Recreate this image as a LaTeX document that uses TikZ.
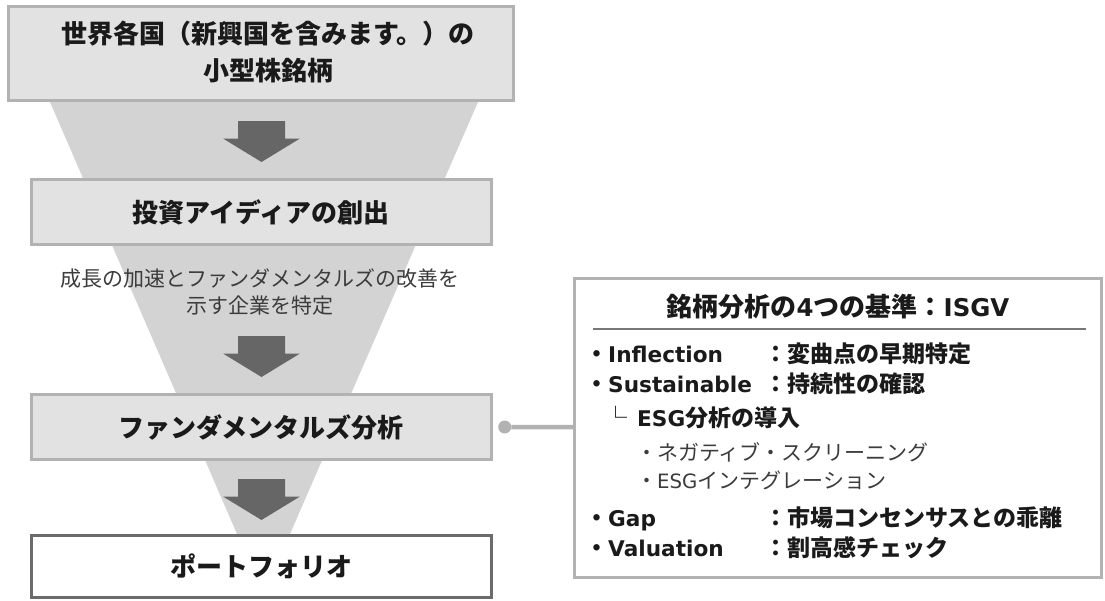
\documentclass[tikz,border=0pt]{standalone}
\usepackage{fontspec}
\setmainfont{Noto Sans CJK JP}
\newfontfamily\lat{DejaVu Sans}[Scale=0.94]
\usetikzlibrary{positioning}

\definecolor{funnelgray}{HTML}{D3D3D3}
\definecolor{boxfill}{HTML}{E2E2E2}
\definecolor{boxline}{HTML}{B2B2B2}
\definecolor{arrowgray}{HTML}{666666}
\definecolor{darkline}{HTML}{6B6B6B}
\definecolor{ruleline}{HTML}{777777}
\definecolor{inktext}{HTML}{1A1A1A}
\definecolor{softtext}{HTML}{3C3C3C}

\begin{document}
\begin{tikzpicture}[x=1pt,y=-1pt,
  stage/.style={rectangle,draw=boxline,fill=boxfill,line width=3pt,minimum width=460pt,
    minimum height=65pt,inner sep=0pt,text=inktext,font=\fontsize{26}{37}\selectfont\bfseries},
  stagetext/.style={align=center,inner sep=0pt,text=inktext,font=\fontsize{26}{37}\selectfont\bfseries},
  note/.style={align=center,inner sep=0pt,text=softtext,font=\fontsize{21}{27}\selectfont},
  dotnode/.style={circle,fill=boxline,minimum size=13pt,inner sep=0pt},
  link/.style={draw=boxline,line width=4.5pt},
  panel/.style={rectangle,draw=boxline,fill=white,line width=3pt,minimum width=527pt,minimum height=299pt,inner sep=0pt},
  paneltitle/.style={inner sep=0pt,text=inktext,font=\fontsize{26}{30}\selectfont\bfseries},
  rule/.style={draw=ruleline,line width=2pt},
  item/.style={anchor=base west,inner sep=0pt,text=inktext,font=\fontsize{23}{27}\selectfont\bfseries},
  subitem/.style={anchor=base west,inner sep=0pt,text=softtext,font=\fontsize{21}{25}\selectfont},
  downarrow/.pic={\fill[arrowgray] (-23.5,0) -- (23.5,0) -- (23.5,17.5) -- (38.5,17.5) -- (0,41)
    -- (-38.5,17.5) -- (-23.5,17.5) -- cycle;}]

  \useasboundingbox (0,0) rectangle (1105,600);

  % funnel behind the stages
  \fill[funnelgray] (50,102) -- (478,102) -- (290,534) -- (237,534) -- cycle;

  \node[stage,minimum width=505pt,minimum height=94pt] (src) at (261,53.5) {};
  \node[stagetext] (srctext) at (268,51.5) {世界各国（新興国を含みます。）の\\小型株銘柄};
  \node[stage] (idea) [below=76pt of src] {投資アイディアの創出};
  \node[stage] (fund) [below=147pt of idea] {ファンダメンタルズ分析};
  \node[stage,draw=darkline,fill=white,minimum height=62pt] (port) [below=73pt of fund] {ポートフォリオ};

  \node[note] (ideanote) at (260,291.5) {成長の加速とファンダメンタルズの改善を\\示す企業を特定};

  \pic at (261.5,121) {downarrow};
  \pic at (261.5,336) {downarrow};
  \pic at (261.5,479) {downarrow};

  % criteria panel
  \node[dotnode,right=5.5pt of fund] (tap) {};
  \node[panel] (isgv) at (838,428) {};
  \draw[link] (tap) -- (isgv);

  \node[paneltitle] (isgvtitle) at (838,307) {銘柄分析の{\lat 4}つの基準：{\lat ISGV}};
  \draw[rule] (593,329) -- (1086,329);

  \node[item] (inf) at (585,362) {・{\lat Inflection}};
  \node[item] (infval) at (764,362) {：変曲点の早期特定};
  \node[item] (sus) at (585,392) {・{\lat Sustainable}};
  \node[item] (susval) at (764,392) {：持続性の確認};
  \node[item] (esg) at (604,426) {{\mdseries └}\hspace{10pt}{\lat ESG}分析の導入};
  \node[subitem] (neg) at (636,460) {・ネガティブ・スクリーニング};
  \node[subitem] (integ) at (636,488) {・{\lat ESG}インテグレーション};
  \node[item] (gap) at (585,526) {・{\lat Gap}};
  \node[item] (gapval) at (764,526) {：市場コンセンサスとの乖離};
  \node[item] (val) at (585,556) {・{\lat Valuation}};
  \node[item] (valval) at (764,556) {：割高感チェック};
\end{tikzpicture}
\end{document}
